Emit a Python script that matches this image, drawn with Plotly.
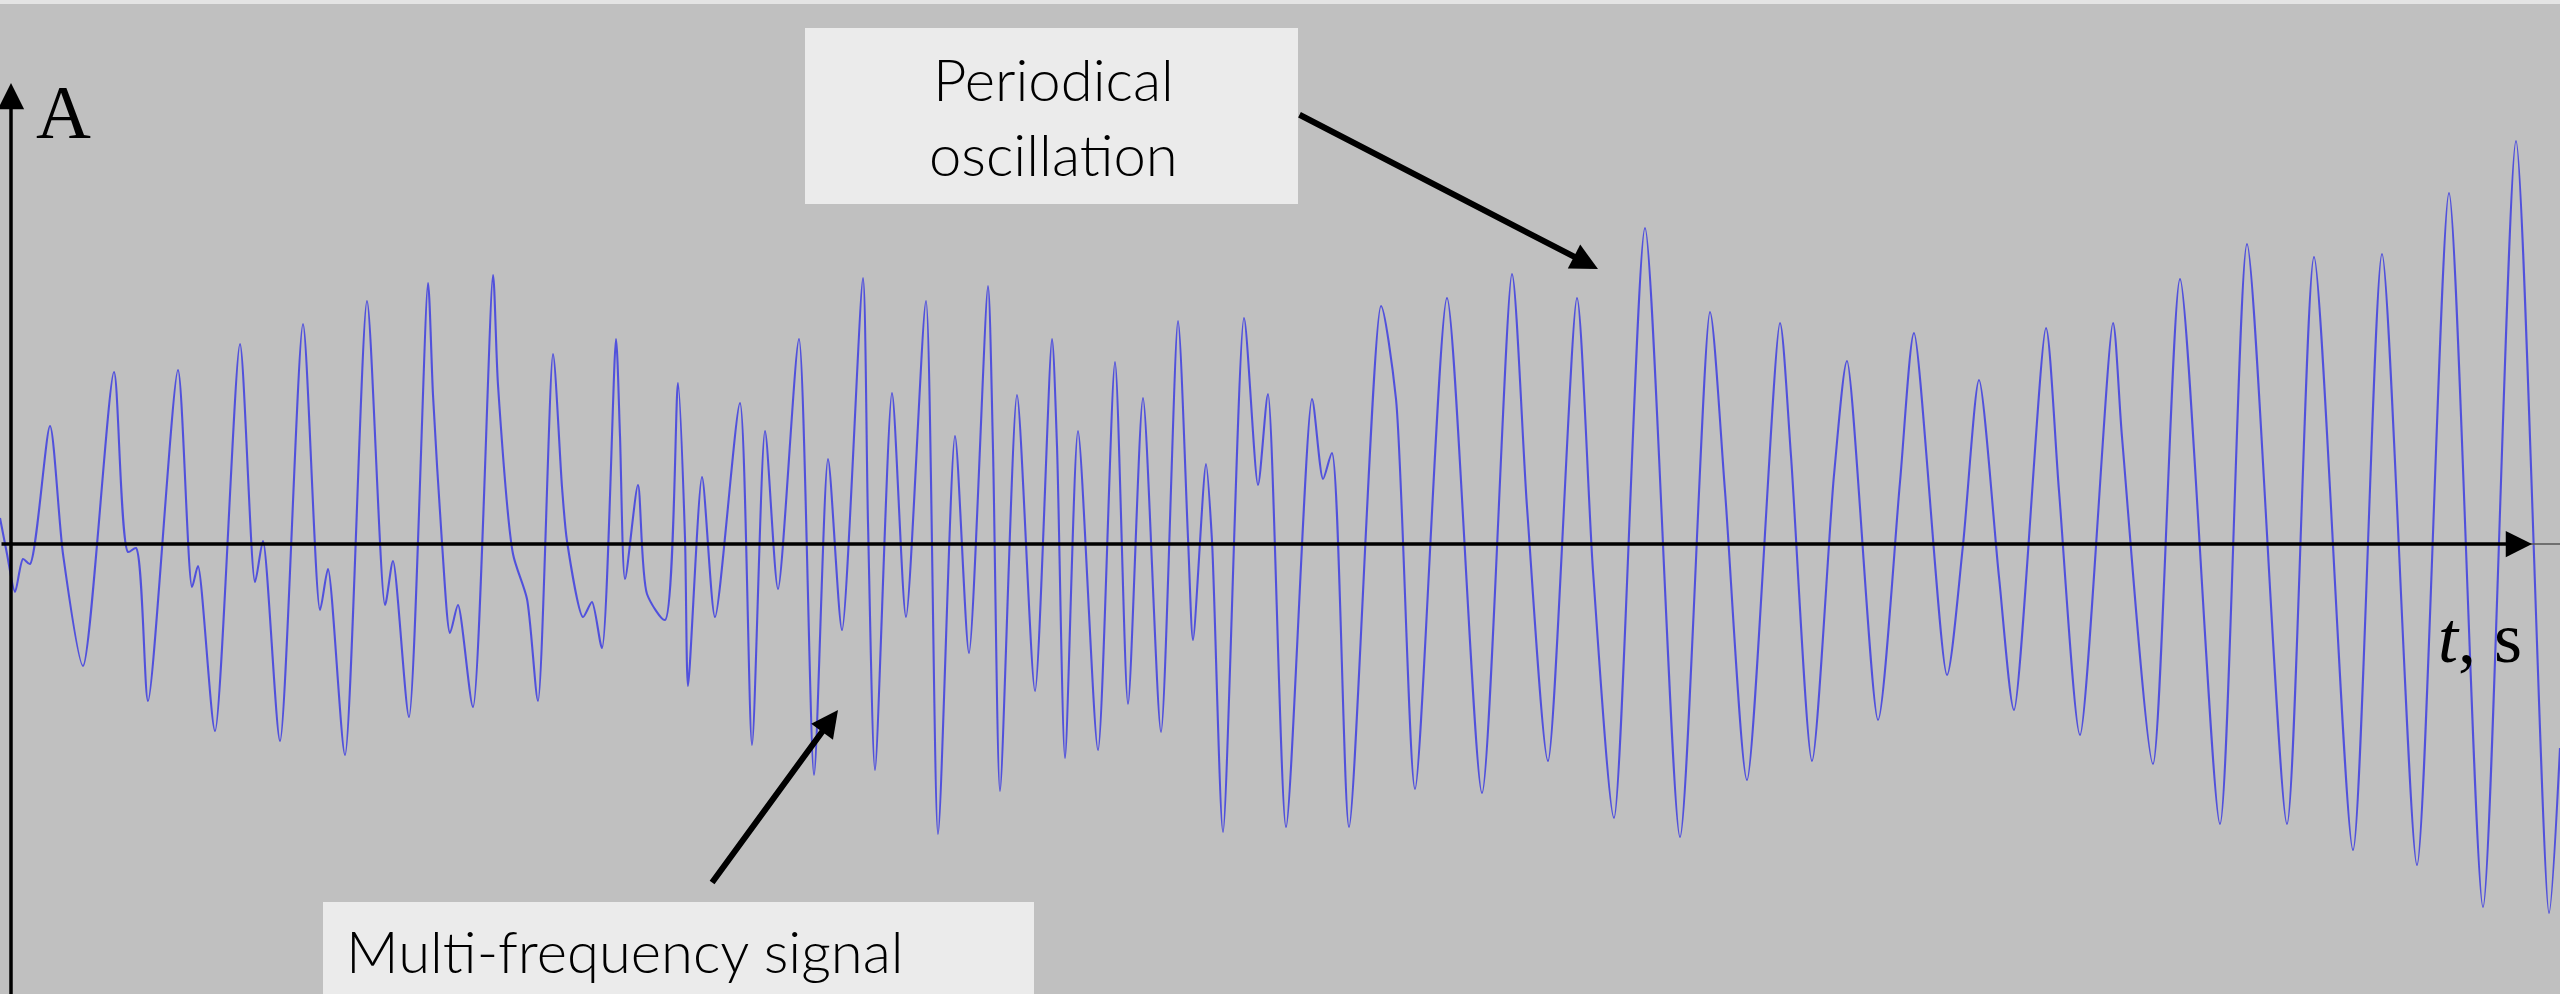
import plotly.graph_objects as go

# ---- data (time in arbitrary units, amplitude in arbitrary units) ----
t_values = [0, 7, 15, 23, 30, 50, 63, 83, 114, 128,
            136, 148, 178, 192, 198, 215, 240, 255, 263, 280,
            303, 320, 328, 345, 367, 385, 393, 409, 428, 433,
            442, 450, 458, 473, 493, 498, 513, 527, 538, 553,
            562, 567, 583, 592, 602, 616, 620, 625, 638, 647,
            665, 678, 685, 688, 702, 715, 740, 752, 765, 778,
            799, 814, 828, 842, 863, 868, 875, 892, 906, 926,
            938, 955, 969, 988, 993, 1000, 1017, 1035, 1052, 1057,
            1065, 1078, 1098, 1115, 1128, 1143, 1161, 1178, 1188, 1193,
            1206, 1212, 1223, 1244, 1258, 1268, 1286, 1312, 1323, 1332,
            1349, 1381, 1396, 1415, 1447, 1482, 1512, 1527, 1548, 1577,
            1593, 1614, 1645, 1680, 1710, 1725, 1747, 1780, 1791, 1812,
            1834, 1847, 1878, 1900, 1914, 1947, 1963, 1979, 1999, 2014,
            2046, 2059, 2080, 2113, 2122, 2153, 2180, 2220, 2247, 2287,
            2314, 2353, 2382, 2417, 2449, 2483, 2516, 2549, 2560]

amplitude = [26, -10, -48, -15, -20, 118, -10, -122, 172, -8,
             -4, -157, 174, -43, -22, -187, 200, -38, 3, -197,
             220, -66, -25, -211, 243, -61, -17, -173, 261, 149,
             1, -89, -61, -163, 269, 159, -10, -55, -157, 190,
             57, 3, -73, -58, -104, 205, 108, -35, 59, -50,
             -76, 161, 6, -142, 67, -73, 141, -201, 113, -45,
             205, -231, 85, -86, 266, 21, -226, 151, -73, 243,
             -290, 108, -109, 258, 95, -247, 149, -147, 205, 98,
             -214, 113, -206, 182, -160, 146, -188, 223, 6, -96,
             80, 3, -288, 226, 59, 150, -283, 145, 65, 91,
             -283, 238, 145, -245, 246, -249, 270, 37, -217, 246,
             -27, -274, 316, -293, 232, 53, -236, 221, 88, -217,
             69, 183, -176, 62, 211, -131, -1, 164, -33, -166,
             216, 53, -191, 221, 107, -220, 265, -280, 300, -280,
             287, -306, 290, -321, 351, -363, 403, -369, -204]

y_label = "A"
x_label = "<i>t</i>, s"
note_periodic = "Periodical<br>oscillation"
note_multi = "Multi-frequency signal"

# ---- layout constants ----
W, H = 2560, 994
Y_TOP, Y_BOT = 544, -450      # amplitude shown at top / bottom edge
BG = "#C0C0C0"
BOX = "#EBEBEB"


def py(p):
    """pixel row -> amplitude coordinate"""
    return Y_TOP - p


fig = go.Figure()
fig.add_trace(go.Scatter(
    x=t_values, y=amplitude, mode="lines",
    line=dict(color="rgba(72,72,222,0.92)", width=2.1, shape="spline", smoothing=0.7),
    hoverinfo="skip", showlegend=False,
))

shapes = [
    # light strip at top
    dict(type="rect", xref="x", yref="y", x0=0, x1=W, y0=py(0), y1=py(4),
         fillcolor="#E4E4E4", line=dict(width=0), layer="below"),
    # text boxes
    dict(type="rect", xref="x", yref="y", x0=805, x1=1298, y0=py(28), y1=py(204),
         fillcolor=BOX, line=dict(width=0), layer="below"),
    dict(type="rect", xref="x", yref="y", x0=323, x1=1034, y0=py(902), y1=py(1000),
         fillcolor=BOX, line=dict(width=0), layer="below"),
    # gray continuation of the time axis
    dict(type="line", xref="x", yref="y", x0=2528, x1=W, y0=0, y1=0,
         line=dict(color="#555555", width=1.5)),
]

annotations = [
    # y axis arrow
    dict(x=11, y=py(83), ax=11, ay=py(1000), xref="x", yref="y", axref="x", ayref="y",
         text="", showarrow=True, arrowhead=2, arrowsize=1.5, arrowwidth=3.5, arrowcolor="black"),
    # x axis arrow
    dict(x=2532, y=0, ax=0, ay=0, xref="x", yref="y", axref="x", ayref="y",
         text="", showarrow=True, arrowhead=2, arrowsize=1.5, arrowwidth=3.5, arrowcolor="black"),
    # axis labels
    dict(x=34, y=py(112), xref="x", yref="y", text=y_label, showarrow=False,
         xanchor="left", yanchor="middle",
         font=dict(family="Liberation Serif", size=76, color="black")),
    dict(x=2524, y=py(638), xref="x", yref="y", text=x_label, showarrow=False,
         xanchor="right", yanchor="middle",
         font=dict(family="Liberation Serif", size=72, color="black")),
    # callouts
    dict(x=1053, y=py(116), xref="x", yref="y", text=note_periodic, showarrow=False,
         xanchor="center", yanchor="middle", align="center",
         font=dict(family="Lato", size=58, color="black", weight=300)),
    dict(x=1598, y=py(269), ax=1298, ay=py(114), xref="x", yref="y", axref="x", ayref="y",
         text="", showarrow=True, arrowhead=2, arrowsize=0.9, arrowwidth=6, arrowcolor="black"),
    dict(x=344, y=py(950), xref="x", yref="y", text=note_multi, showarrow=False,
         xanchor="left", yanchor="middle",
         font=dict(family="Lato", size=58, color="black", weight=300)),
    dict(x=838, y=py(710), ax=711, ay=py(884), xref="x", yref="y", axref="x", ayref="y",
         text="", showarrow=True, arrowhead=2, arrowsize=0.9, arrowwidth=6, arrowcolor="black"),
]

fig.update_layout(
    width=W, height=H, margin=dict(l=0, r=0, t=0, b=0),
    paper_bgcolor=BG, plot_bgcolor=BG,
    xaxis=dict(range=[0, W], visible=False, fixedrange=True),
    yaxis=dict(range=[Y_BOT, Y_TOP], visible=False, fixedrange=True),
    shapes=shapes, annotations=annotations, showlegend=False,
)

fig.write_html("out.html", config={"displayModeBar": False})
